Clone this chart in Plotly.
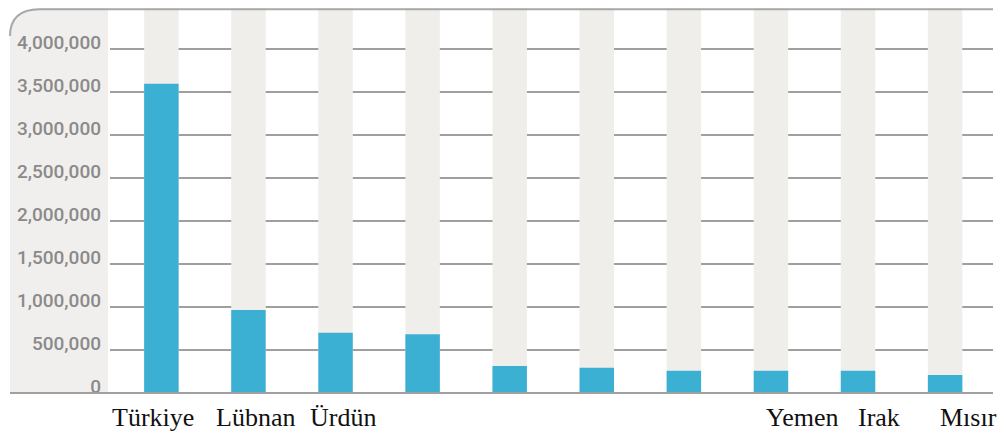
import plotly.graph_objects as go

# ---- data ----
labels = ["Türkiye", "Lübnan", "Ürdün", "", "", "", "", "Yemen", "Irak", "Mısır"]
values = [3600000, 965000, 700000, 683000, 314000, 294000, 259000, 259000, 259000, 209000]
y_ticks = [0, 500000, 1000000, 1500000, 2000000, 2500000, 3000000, 3500000, 4000000]
y_max = 4480000

# label horizontal nudges (style only)
label_shift = [-8, 7, 7, 0, 0, 0, 0, 31, 21, 23]

positions = list(range(len(labels)))

# page has an 8px body margin: figure is laid out in (window px - 8)
OFF = 8
W, H = 998, 438
L, R, T, B = 102, 13, 0, 53
pw, ph = W - L - R, H - T - B

def px(x):  # window px -> paper x
    return (x - OFF - L) / pw

def py(y):  # window px -> paper y
    return (H - B - (y - OFF)) / ph

fig = go.Figure()
fig.add_trace(go.Bar(
    x=positions, y=[y_max] * len(positions),
    marker=dict(color="#f0eeeb", line=dict(width=0)),
    hoverinfo="skip", showlegend=False,
))
fig.add_trace(go.Bar(
    x=positions, y=values,
    marker=dict(color="#3cb0d3", line=dict(width=0)),
    showlegend=False,
))

# label panel with rounded top-left corner
x0, x1, xc = px(10), px(108), px(40)
yc = py(36)
fig.add_shape(
    type="path", xref="paper", yref="paper", layer="below",
    path=f"M {x0},0 L {x0},{yc} Q {x0},1 {xc},1 L {x1},1 L {x1},0 Z",
    fillcolor="#f1efed", line=dict(width=0),
)
# top border
fig.add_shape(
    type="path", xref="paper", yref="paper", layer="above",
    path=f"M {x0},{yc} Q {x0},0.997 {xc},0.997 L 1,0.997",
    line=dict(color="#a8a8a8", width=2),
)
# bottom baseline
fig.add_shape(
    type="line", xref="paper", yref="paper", layer="above",
    x0=x0, x1=1, y0=0, y1=0,
    line=dict(color="#a0a0a0", width=2),
)

for i, (lab, dx) in enumerate(zip(labels, label_shift)):
    if lab:
        fig.add_annotation(
            x=positions[i], y=0, xref="x", yref="paper",
            text=lab, showarrow=False, xanchor="center", yanchor="middle",
            xshift=dx, yshift=-24,
            font=dict(family="Liberation Serif, Times New Roman, serif", size=26, color="#111111"),
        )

fig.update_layout(
    width=W, height=H,
    margin=dict(l=L, r=R, t=T, b=B),
    paper_bgcolor="white", plot_bgcolor="white",
    barmode="overlay", bargap=0.604,
)
fig.update_xaxes(
    range=[-0.59, 9.55], showgrid=False, zeroline=False, showline=False,
    showticklabels=False, ticks="", fixedrange=True,
)
fig.update_yaxes(
    range=[0, y_max], tickvals=y_ticks, tickformat=",d",
    showgrid=True, gridcolor="#9f9f9f", gridwidth=2,
    zeroline=False, showline=False, ticks="",
    ticklabelposition="outside", ticklabelstandoff=8, ticklabelshift=-7,
    tickfont=dict(family="Roboto, sans-serif", size=19, color="#8a8a8a", weight=500),
    fixedrange=True,
)

fig.write_html("out.html")
